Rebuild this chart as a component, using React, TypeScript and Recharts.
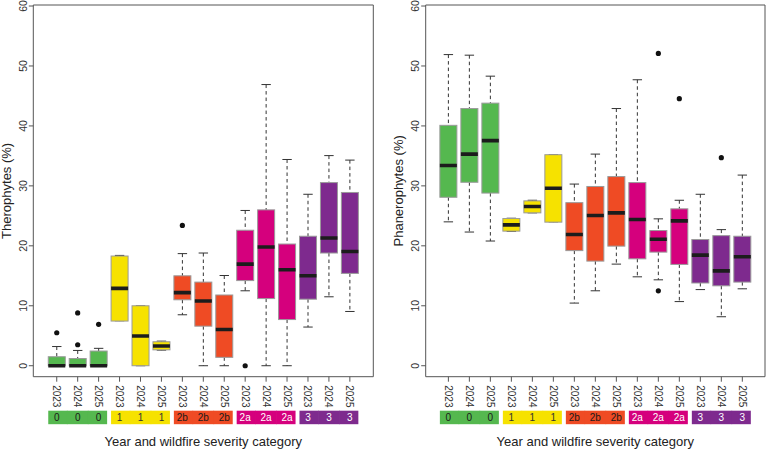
import { Bar, ComposedChart, Label, ReferenceArea, Scatter, XAxis, YAxis } from "recharts";

const years = ["2023", "2024", "2025", "2023", "2024", "2025", "2023", "2024", "2025", "2023", "2024", "2025", "2023", "2024", "2025"];
const severity = ["0", "0", "0", "1", "1", "1", "2b", "2b", "2b", "2a", "2a", "2a", "3", "3", "3"];

// Therophytes (%)
const thLo = [0, 0, 0, 7.5, 0, 2.6, 8.5, 0, 0, 12.5, 0, 0, 6.45, 11.5, 9.05];
const thQ1 = [0, 0, 0, 7.45, 0, 2.65, 11.0, 6.6, 1.4, 14.2, 11.2, 7.7, 11.1, 18.8, 15.4];
const thMed = [0, 0, 0, 12.9, 4.95, 3.3, 12.2, 10.8, 6.05, 16.95, 19.8, 16.0, 15.0, 21.3, 19.05];
const thQ3 = [1.5, 1.2, 2.45, 18.3, 10.0, 4.0, 15.0, 13.95, 11.8, 22.6, 26.0, 20.3, 21.6, 30.55, 28.9];
const thHi = [3.2, 2.55, 2.9, 18.4, 10.0, 4.1, 18.7, 18.8, 15.05, 25.9, 46.9, 34.4, 28.6, 35.05, 34.3];
const thOutPos = [1, 2, 2, 3, 7, 10];
const thOutVal = [5.5, 3.5, 8.8, 6.9, 23.4, 0];

// Phanerophytes (%)
const phLo = [24.0, 22.3, 20.8, 22.4, 25.5, 24.0, 10.45, 12.5, 16.95, 14.83, 14.33, 10.7, 12.7, 8.17, 12.83];
const phQ1 = [28.1, 30.6, 28.8, 22.45, 25.5, 23.95, 19.2, 17.45, 19.95, 17.83, 18.95, 16.9, 13.8, 13.33, 13.95];
const phMed = [33.4, 35.3, 37.55, 23.5, 26.55, 29.6, 21.9, 25.05, 25.5, 24.4, 21.1, 24.17, 18.45, 15.83, 18.17];
const phQ3 = [40.1, 42.9, 43.8, 24.55, 27.5, 35.2, 27.2, 29.9, 31.55, 30.55, 22.55, 26.17, 21.05, 21.7, 21.6];
const phHi = [51.9, 51.8, 48.3, 24.6, 27.6, 35.2, 30.3, 35.3, 42.9, 47.7, 24.5, 27.6, 28.6, 22.7, 31.8];
const phOutPos = [11, 11, 12, 14];
const phOutVal = [52.1, 12.5, 44.55, 34.7];

const yTicks = [0, 10, 20, 30, 40, 50, 60];

const SEV_FILL: Record<string, string> = {
    "0": "#55b84f",
    "1": "#f6e200",
    "2b": "#ef4b24",
    "2a": "#d5007d",
    "3": "#7e2a8e",
};
const SEV_TEXT: Record<string, string> = {
    "0": "#1a1a1a",
    "1": "#333333",
    "2b": "#1a1a1a",
    "2a": "#ffffff",
    "3": "#ffffff",
};

const FONT = "'Liberation Sans', Arial, sans-serif";
const Y_DOMAIN = [-1.83, 60.17];

function buildRows(lo: number[], q1: number[], med: number[], q3: number[], hi: number[]) {
    return years.map((year, i) => ({
        pos: i + 1,
        year,
        sev: severity[i],
        lo: lo[i],
        q1: q1[i],
        med: med[i],
        q3: q3[i],
        hi: hi[i],
    }));
}

function buildOutliers(pos: number[], val: number[]) {
    return pos.map((p, i) => ({ pos: p, v: val[i] }));
}

// one box: whiskers, box, median — positions come from the bar's own scale
function BoxShape(props: any) {
    const { x, y, width, height, payload } = props;
    const { lo, q1, med, q3, hi, sev } = payload;
    const k = height / (hi - lo);
    const py = (v: number) => y + (hi - v) * k;
    const cx = x + width / 2;
    const cap = 4.7;
    return (
        <g>
            <line x1={cx} x2={cx} y1={py(hi)} y2={py(q3)} stroke="#333" strokeDasharray="3.5 3" />
            <line x1={cx} x2={cx} y1={py(q1)} y2={py(lo)} stroke="#333" strokeDasharray="3.5 3" />
            <line x1={cx - cap} x2={cx + cap} y1={py(hi)} y2={py(hi)} stroke="#333" />
            <line x1={cx - cap} x2={cx + cap} y1={py(lo)} y2={py(lo)} stroke="#333" />
            <rect x={x} y={py(q3)} width={width} height={py(q1) - py(q3)} fill={SEV_FILL[sev]} stroke="#9a9a9a" strokeWidth={1} />
            <line x1={x} x2={x + width} y1={py(med)} y2={py(med)} stroke="#1c1c1c" strokeWidth={3.6} />
        </g>
    );
}

function Dot(props: any) {
    return <circle cx={props.cx} cy={props.cy} r={2.6} fill="#111" />;
}

function XTick(props: any) {
    const { x, y, payload } = props;
    const i = payload.value - 1;
    if (i < 0 || i >= years.length) return null;
    const sev = severity[i];
    const left = i % 3 === 0 ? x - 8.5 : x - 10.8;
    const right = i % 3 === 2 ? x + 8.5 : x + 10.8;
    return (
        <g>
            <text
                x={x}
                y={y + 1.5}
                transform={`rotate(90, ${x}, ${y + 1.5})`}
                textAnchor="start"
                dominantBaseline="central"
                fontSize={10}
                fill="#333"
                fontFamily={FONT}
            >
                {years[i]}
            </text>
            <rect x={left} y={y + 27} width={right - left} height={13.5} fill={SEV_FILL[sev]} />
            <text x={x} y={y + 34} textAnchor="middle" dominantBaseline="central" fontSize={10} fill={SEV_TEXT[sev]} fontFamily={FONT}>
                {sev}
            </text>
        </g>
    );
}

function YTick(props: any) {
    const { x, y, payload } = props;
    const tx = x - 4.2;
    return (
        <text x={tx} y={y} transform={`rotate(-90, ${tx}, ${y})`} textAnchor="middle" dominantBaseline="central" fontSize={10.5} fill="#333" fontFamily={FONT}>
            {payload.value}
        </text>
    );
}

type PanelProps = {
    rows: ReturnType<typeof buildRows>;
    outliers: { pos: number; v: number }[];
    title: string;
    width: number;
    yAxisWidth: number;
    rightMargin: number;
    xDomain: number[];
};

function BoxPanel({ rows, outliers, title, width, yAxisWidth, rightMargin, xDomain }: PanelProps) {
    return (
        <ComposedChart width={width} height={451} data={rows} margin={{ top: 5, right: rightMargin, bottom: 0, left: 0 }}>
            <XAxis
                dataKey="pos"
                type="number"
                domain={xDomain}
                allowDataOverflow
                ticks={rows.map((r) => r.pos)}
                height={74.3}
                axisLine={false}
                tickLine={{ stroke: "#555" }}
                tickSize={5}
                tickMargin={2}
                tick={<XTick />}
                interval={0}
            >
                <Label
                    content={(p: any) => (
                        <text
                            x={p.viewBox.x + p.viewBox.width / 2}
                            y={p.viewBox.y + 65}
                            textAnchor="middle"
                            dominantBaseline="central"
                            fontSize={13}
                            fill="#222"
                            fontFamily={FONT}
                        >
                            Year and wildfire severity category
                        </text>
                    )}
                />
            </XAxis>
            <YAxis
                type="number"
                domain={Y_DOMAIN}
                allowDataOverflow
                ticks={yTicks}
                width={yAxisWidth}
                axisLine={false}
                tickLine={{ stroke: "#555" }}
                tickSize={4.5}
                tickMargin={2}
                tick={<YTick />}
                interval={0}
            >
                <Label
                    content={(p: any) => {
                        const tx = p.viewBox.x + p.viewBox.width - 27.2;
                        const ty = p.viewBox.y + p.viewBox.height / 2;
                        return (
                            <text x={tx} y={ty} transform={`rotate(-90, ${tx}, ${ty})`} textAnchor="middle" dominantBaseline="central" fontSize={13} fill="#222" fontFamily={FONT}>
                                {title}
                            </text>
                        );
                    }}
                />
            </YAxis>
            <Bar dataKey={(d: any) => [d.lo, d.hi]} barSize={17} shape={<BoxShape />} isAnimationActive={false} />
            <Scatter data={outliers} dataKey="v" shape={<Dot />} isAnimationActive={false} />
            <ReferenceArea
                x1={xDomain[0]}
                x2={xDomain[1]}
                y1={Y_DOMAIN[0]}
                y2={Y_DOMAIN[1]}
                fill="none"
                stroke="#555"
                strokeWidth={1}
                ifOverflow="visible"
            />
        </ComposedChart>
    );
}

export default function App() {
    const thRows = buildRows(thLo, thQ1, thMed, thQ3, thHi);
    const phRows = buildRows(phLo, phQ1, phMed, phQ3, phHi);
    return (
        <div style={{ position: "absolute", left: 0, top: 0, width: 767, height: 451, background: "#fff" }}>
            <div style={{ position: "absolute", left: 0, top: 0 }}>
                <BoxPanel
                    rows={thRows}
                    outliers={buildOutliers(thOutPos, thOutVal)}
                    title="Therophytes (%)"
                    width={380}
                    yAxisWidth={33.3}
                    rightMargin={6.7}
                    xDomain={[-0.12, 16.12]}
                />
            </div>
            <div style={{ position: "absolute", left: 385, top: 0 }}>
                <BoxPanel
                    rows={phRows}
                    outliers={buildOutliers(phOutPos, phOutVal)}
                    title="Phanerophytes (%)"
                    width={382}
                    yAxisWidth={40.7}
                    rightMargin={2}
                    xDomain={[-0.08, 16.08]}
                />
            </div>
        </div>
    );
}
